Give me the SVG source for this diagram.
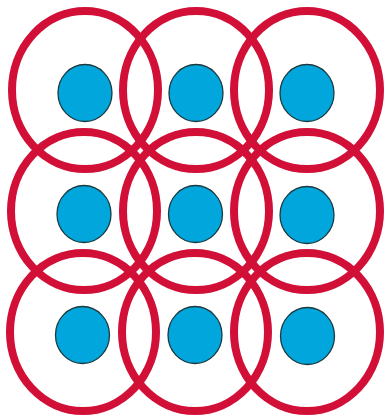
<svg xmlns="http://www.w3.org/2000/svg" width="385" height="418" viewBox="0 0 385 418">
<style>
.ring{fill:none;stroke:#D10F37;stroke-width:8}
.dot{fill:#00A6DC;stroke:#1D3A3F;stroke-width:1.3}
</style>
<rect width="385" height="418" fill="#ffffff"/>
<g id="rings">
<ellipse id="r11" class="ring" cx="85" cy="90" rx="73" ry="79"/>
<ellipse id="r12" class="ring" cx="196" cy="90" rx="73" ry="79"/>
<ellipse id="r13" class="ring" cx="307" cy="90" rx="73" ry="79"/>
<ellipse id="r21" class="ring" cx="84" cy="211" rx="73" ry="79"/>
<ellipse id="r22" class="ring" cx="196" cy="211" rx="73" ry="79"/>
<ellipse id="r23" class="ring" cx="307" cy="211" rx="73" ry="79"/>
<ellipse id="r31" class="ring" cx="83" cy="332" rx="73" ry="79"/>
<ellipse id="r32" class="ring" cx="195" cy="332" rx="73" ry="79"/>
<ellipse id="r33" class="ring" cx="307" cy="332" rx="73" ry="79"/>
</g>
<g id="dots">
<ellipse id="d11" class="dot" cx="85" cy="93" rx="27" ry="28.5"/>
<ellipse id="d12" class="dot" cx="196" cy="93" rx="27" ry="28.5"/>
<ellipse id="d13" class="dot" cx="307" cy="93" rx="27" ry="28.5"/>
<ellipse id="d21" class="dot" cx="84" cy="214" rx="27" ry="28.5"/>
<ellipse id="d22" class="dot" cx="195.5" cy="214" rx="27" ry="28.5"/>
<ellipse id="d23" class="dot" cx="307" cy="215" rx="27" ry="28.5"/>
<ellipse id="d31" class="dot" cx="82.5" cy="335" rx="27" ry="28.5"/>
<ellipse id="d32" class="dot" cx="195" cy="335" rx="27" ry="28.5"/>
<ellipse id="d33" class="dot" cx="307.5" cy="336" rx="27" ry="28.5"/>
</g>
</svg>
